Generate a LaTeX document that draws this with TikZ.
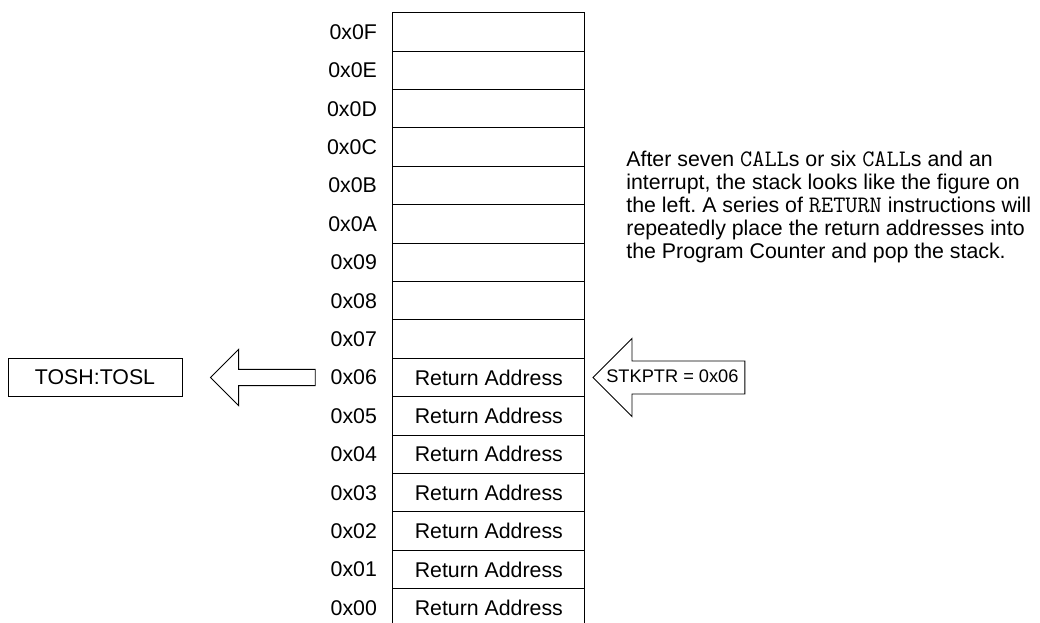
\documentclass[tikz,border=0pt]{standalone}
\usepackage{fontspec}
\setmainfont{Liberation Sans}
\usepackage{tikz}
\usetikzlibrary{positioning, calc}
\frenchspacing
\newcommand{\instr}[1]{{\fontsize{17.5}{17}\selectfont\ttfamily #1}}

\begin{document}
\begin{tikzpicture}[
    font=\fontsize{15.8}{17}\selectfont,
    line width=0.7pt,
    cell/.style={draw, minimum width=5cm, minimum height=1cm, inner sep=0pt},
    addr/.style={inner sep=0pt},
    ptrlabel/.style={font=\fontsize{13.5}{15}\selectfont, inner sep=0pt, anchor=west}
  ]
    \useasboundingbox (0,0) rectangle (27.083,-16.198);
    \clip (0,0) rectangle (27.083,-16.198);

    % Stack memory, 0x0F on top
    \foreach \lab [count=\i from 0] in {0F,0E,0D,0C,0B,0A,09,08,07,06,05,04,03,02,01,00} {
      \node[cell] (c\i) at (12.73,{-0.83-\i}) {\ifnum\i>8 Return Address\fi};
      \node[addr, left=0.39cm of c\i] (a\i) {0x\lab};
    }

    % Top of stack register
    \node[draw, minimum width=4.53cm, minimum height=1cm] (tos) at (2.475,-9.83) {TOSH:TOSL};

    % Block arrow: stack -> TOSH:TOSL
    \coordinate (ltip) at ($(tos.east)+(0.73,0)$);
    \coordinate (lend) at ($(a9.west)+(-0.39,0)$);
    \draw (ltip) -- ++(0.73,0.73) -- ++(0,-0.52) -| ($(lend)+(0,-0.21)$)
      -| ($(ltip)+(0.73,-0.73)$) -- cycle;

    % Block arrow: stack pointer
    \coordinate (rtip) at ($(c9.east)+(0.2,0)$);
    \draw (rtip) -- ++(1.016,1.016) -- ++(0,-0.586) -| ($(rtip)+(3.955,-0.43)$)
      -| ($(rtip)+(1.016,-1.016)$) -- cycle;
    \node[ptrlabel] (sp) at ($(rtip)+(0.335,0.02)$) {STKPTR = 0x06};

    % Explanation
    \node[anchor=north west, inner sep=0pt, align=left] (note) at (16.30,-3.92)
      {After seven \instr{CALL}s or six \instr{CALL}s and an\\
       interrupt, the stack looks like the figure on\\
       the left. A series of \instr{RETURN} instructions will\\
       repeatedly place the return addresses into\\
       the Program Counter and pop the stack.};
  \end{tikzpicture}
\end{document}
